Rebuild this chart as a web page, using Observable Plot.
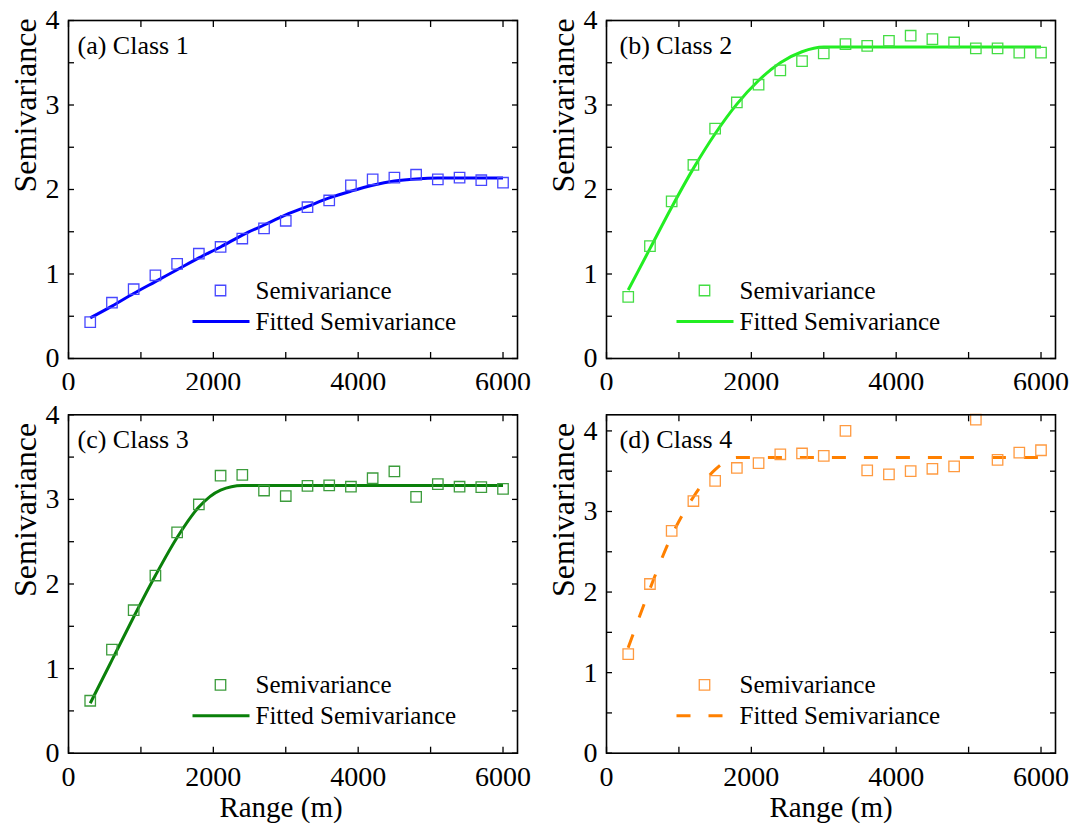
<!DOCTYPE html>
<html>
<head>
<meta charset="utf-8">
<script src="https://cdn.jsdelivr.net/npm/d3@7"></script>
<script src="https://cdn.jsdelivr.net/npm/@observablehq/plot@0.6"></script>
<style>
  body { margin: 0; background: #fff; }
  #wrap { position: relative; width: 1076px; height: 828px; background: #fff; }
  #wrap svg { position: absolute; overflow: visible; }
</style>
</head>
<body>
<div id="wrap"></div>
<script>
// ---- data ----
const lags = [300, 600, 900, 1200, 1500, 1800, 2100, 2400, 2700, 3000, 3300, 3600, 3900, 4200, 4500, 4800, 5100, 5400, 5700, 6000];
const class1 = [0.43, 0.66, 0.82, 0.985, 1.12, 1.24, 1.32, 1.42, 1.54, 1.63, 1.79, 1.87, 2.05, 2.12, 2.14, 2.175, 2.12, 2.14, 2.11, 2.08];
const class2 = [0.73, 1.33, 1.86, 2.29, 2.72, 3.03, 3.24, 3.41, 3.52, 3.61, 3.72, 3.70, 3.76, 3.82, 3.78, 3.74, 3.67, 3.67, 3.62, 3.62];
const class3 = [0.62, 1.225, 1.69, 2.10, 2.61, 2.94, 3.28, 3.29, 3.105, 3.04, 3.16, 3.165, 3.15, 3.25, 3.33, 3.03, 3.18, 3.15, 3.145, 3.125];
const class4 = [1.23, 2.10, 2.76, 3.13, 3.38, 3.54, 3.60, 3.71, 3.72, 3.69, 4.00, 3.51, 3.46, 3.50, 3.53, 3.56, 4.14, 3.64, 3.73, 3.76];

const fitX1 = [300, 600, 900, 1200, 1500, 1800, 2100, 2400, 2700, 3000, 3300, 3600, 3900, 4200, 4500, 4800, 5100, 6000];
const fit1  = [0.48, 0.62, 0.77, 0.91, 1.05, 1.19, 1.32, 1.46, 1.58, 1.70, 1.80, 1.90, 1.98, 2.05, 2.10, 2.125, 2.135, 2.135];
const fitX2 = [300, 600, 900, 1200, 1500, 1800, 2100, 2400, 2700, 3000, 6000];
const fit2  = [0.81, 1.30, 1.79, 2.25, 2.66, 3.01, 3.29, 3.50, 3.63, 3.685, 3.685];
const fitX3 = [300, 600, 900, 1200, 1500, 1800, 2100, 2400, 6000];
const fit3  = [0.59, 1.10, 1.61, 2.10, 2.55, 2.91, 3.11, 3.165, 3.165];
const fitX4 = [300, 600, 900, 1200, 1500, 1800, 6000];
const fit4  = [1.31, 2.04, 2.70, 3.18, 3.52, 3.67, 3.67];

const panelLabels = ["(a) Class 1", "(b) Class 2", "(c) Class 3", "(d) Class 4"];
const legendLabels = ["Semivariance", "Fitted Semivariance"];
const xTickLabels = [0, 2000, 4000, 6000];
const xTicksAll = [0, 1000, 2000, 3000, 4000, 5000, 6000];
const yTickLabels = [0, 1, 2, 3, 4];
const yTicksAll = [0, 0.5, 1, 1.5, 2, 2.5, 3, 3.5, 4];
const xTitle = "Range (m)";
const yTitle = "Semivariance";

// ---- panel configuration (layout / style) ----
const panels = [
  {obs: class1, fx: fitX1, fy: fit1, label: panelLabels[0], left: 0, top: 0, row: 0, yMax: 4,
   line: "#0000ff", marker: "#4747ff", dash: null, labDx: 9, legDx: 152, xTitleDx: 0},
  {obs: class2, fx: fitX2, fy: fit2, label: panelLabels[1], left: 538, top: 0, row: 0, yMax: 4,
   line: "#22ee22", marker: "#44dd44", dash: null, labDx: 13, legDx: 98, xTitleDx: 0},
  {obs: class3, fx: fitX3, fy: fit3, label: panelLabels[2], left: 0, top: 390, row: 1, yMax: 4,
   line: "#0a800a", marker: "#3c9c3c", dash: null, labDx: 9, legDx: 152, xTitleDx: -12},
  {obs: class4, fx: fitX4, fy: fit4, label: panelLabels[3], left: 538, top: 390, row: 1, yMax: 4.2,
   line: "#ff8000", marker: "#ff9a40", dash: "14,18", labDx: 13, legDx: 98, xTitleDx: 0}
];

const spanShape = {draw(context, l) { context.moveTo(0, 0); context.lineTo(0, -l); }};
const wrap = document.getElementById("wrap");

for (const p of panels) {
  const obsData = lags.map((x, i) => ({x, y: p.obs[i]}));
  const fitData = p.fx.map((x, i) => ({x, y: p.fy[i]}));
  const height = p.row === 0 ? 390 : 438;
  const marginTop = p.row === 0 ? 20 : 24.3;
  const marginBottom = p.row === 0 ? 32 : 75.3;

  const marks = [
    // data
    Plot.line(fitData, {x: "x", y: "y", stroke: p.line, strokeWidth: 3, curve: "monotone-x",
      strokeDasharray: p.dash, strokeLinecap: "butt"}),
    Plot.dot(obsData, {x: "x", y: "y", symbol: "square", r: 5.9, stroke: p.marker, strokeWidth: 1.3, fill: "none"}),
    // frame and inward ticks
    Plot.frame({stroke: "black", strokeWidth: 1.6}),
    Plot.axisX(xTicksAll, {anchor: "bottom", tickSize: -6, fill: "none", stroke: "black", strokeWidth: 1.3, label: null}),
    Plot.axisX(xTicksAll, {anchor: "top", tickSize: -6, fill: "none", stroke: "black", strokeWidth: 1.3, label: null}),
    Plot.axisY(yTicksAll, {anchor: "left", tickSize: -6, fill: "none", stroke: "black", strokeWidth: 1.3, label: null}),
    Plot.axisY(yTicksAll, {anchor: "right", tickSize: -6, fill: "none", stroke: "black", strokeWidth: 1.3, label: null}),
    // tick labels
    Plot.axisX(xTickLabels, {anchor: "bottom", tickSize: 0, tickPadding: 13, fontSize: 28, fill: "black", label: null, tickFormat: d => String(d)}),
    Plot.axisY(yTickLabels, {anchor: "left", tickSize: 0, tickPadding: 9, fontSize: 28, fill: "black", label: null, tickFormat: d => String(d)}),
    // titles
    Plot.text([yTitle], {text: d => d, frameAnchor: "left", rotate: -90, dx: -43, dy: p.row === 0 ? 3 : 13, fontSize: 32, fill: "black"}),
    Plot.text([p.label], {text: d => d, frameAnchor: "top-left", dx: p.labDx, dy: 25, textAnchor: "start", lineAnchor: "middle", fontSize: 26, fill: "black"}),
    // legend
    Plot.dot([0], {frameAnchor: "top-left", dx: p.legDx, dy: 270, symbol: "square", r: 5.9, stroke: p.marker, strokeWidth: 1.3, fill: "none"}),
    Plot.vector([0], {frameAnchor: "top-left", dx: p.legDx - 28, dy: 301, rotate: 90, length: 57, anchor: "start",
      shape: spanShape, stroke: p.line, strokeWidth: 3, strokeDasharray: p.dash, strokeLinecap: "butt"}),
    Plot.text([legendLabels[0]], {text: d => d, frameAnchor: "top-left", dx: p.legDx + 35, dy: 270, textAnchor: "start", lineAnchor: "middle", fontSize: 25, fill: "black"}),
    Plot.text([legendLabels[1]], {text: d => d, frameAnchor: "top-left", dx: p.legDx + 35, dy: 301, textAnchor: "start", lineAnchor: "middle", fontSize: 25, fill: "black"})
  ];
  if (p.row === 1) {
    marks.push(Plot.text([xTitle], {text: d => d, frameAnchor: "bottom", dx: p.xTitleDx, dy: 55, lineAnchor: "middle", fontSize: 29, fill: "black"}));
  }

  const chart = Plot.plot({
    width: 538,
    height,
    marginLeft: 68,
    marginRight: 21,
    marginTop,
    marginBottom,
    style: {fontFamily: "'Liberation Serif', 'Times New Roman', serif", color: "black", background: "white", overflow: "visible"},
    x: {domain: [0, 6200], nice: false, axis: null},
    y: {domain: [0, p.yMax], nice: false, axis: null},
    marks
  });
  chart.style.left = p.left + "px";
  chart.style.top = p.top + "px";
  wrap.appendChild(chart);
}
</script>
</body>
</html>
